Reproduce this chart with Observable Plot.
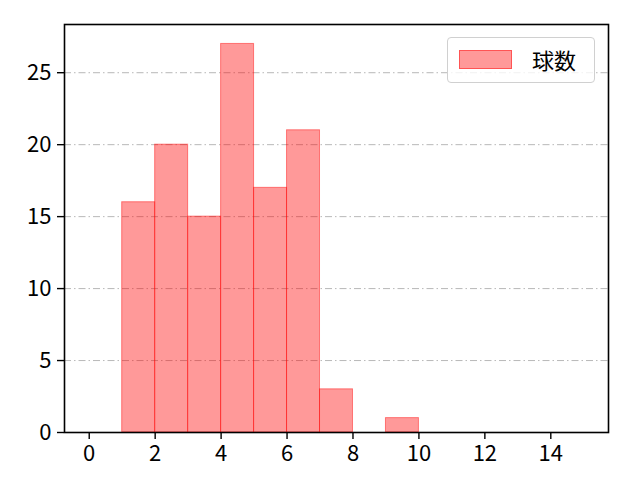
<!DOCTYPE html>
<html><head><meta charset="utf-8">
<script src="https://cdn.jsdelivr.net/npm/d3@7"></script>
<script src="https://cdn.jsdelivr.net/npm/@observablehq/plot@0.6"></script>
<style>
body{margin:0;background:#fff;}
#wrap{position:relative;width:640px;height:480px;font-family:"Noto Sans CJK JP","DejaVu Sans",sans-serif;}
#legend{position:absolute;left:447px;top:37px;width:148px;height:46px;border:1px solid #d0d0d0;border-radius:4px;background:rgba(255,255,255,0.8);box-sizing:border-box;}
#legend .sw{position:absolute;left:11px;top:12px;width:53px;height:19px;background:rgba(255,0,0,0.4);border:1px solid rgba(255,0,0,0.45);box-sizing:border-box;}
#legend .lb{position:absolute;left:84px;top:6px;font-size:22px;color:#000;line-height:30px;}
</style>
</head><body>
<div id="wrap"></div>
<script>
const binStart = [0,1,2,3,4,5,6,7,8,9,10,11,12,13,14];
const binEnd   = [1,2,3,4,5,6,7,8,9,10,11,12,13,14,15];
const counts   = [0,16,20,15,27,17,21,3,0,1,0,0,0,0,0];
const xTicks = [0,2,4,6,8,10,12,14];
const yTicks = [0,5,10,15,20,25];
const seriesName = "球数";

const data = binStart.map((s,i)=>({x1:s,x2:binEnd[i],y:counts[i]})).filter(d=>d.y>0);

const chart = Plot.plot({
  width:640, height:480,
  marginLeft:64, marginRight:32, marginTop:24, marginBottom:48,
  style:{fontFamily:'"Noto Sans CJK JP","DejaVu Sans",sans-serif', fontSize:"22px", background:"#fff", color:"#000"},
  x:{domain:[-0.75,15.75], label:null},
  y:{domain:[0,28.35], label:null},
  marks:[
    Plot.gridY(yTicks.filter(d=>d>0), {stroke:"#b0b0b0", strokeOpacity:1, strokeWidth:0.9, strokeDasharray:"7,3,1.5,3"}),
    Plot.rectY(data, {x1:"x1", x2:"x2", y:"y", fill:"red", fillOpacity:0.4, stroke:"red", strokeOpacity:0.45, strokeWidth:1, inset:0}),
    Plot.axisX({ticks:xTicks, tickSize:7, tickPadding:6, fontSize:22, stroke:"#000", strokeWidth:1.4, tickFormat:d=>String(d), label:null}),
    Plot.axisY({ticks:yTicks, tickSize:7, tickPadding:6, fontSize:22, stroke:"#000", strokeWidth:1.4, tickFormat:d=>String(d), label:null}),
    Plot.frame({stroke:"#000", strokeWidth:1.6})
  ]
});
const wrap = document.getElementById("wrap");
wrap.appendChild(chart);
const lg = document.createElement("div");
lg.id="legend";
lg.innerHTML = '<div class="sw"></div><div class="lb"></div>';
lg.querySelector(".lb").textContent = seriesName;
wrap.appendChild(lg);
</script>
</body></html>
